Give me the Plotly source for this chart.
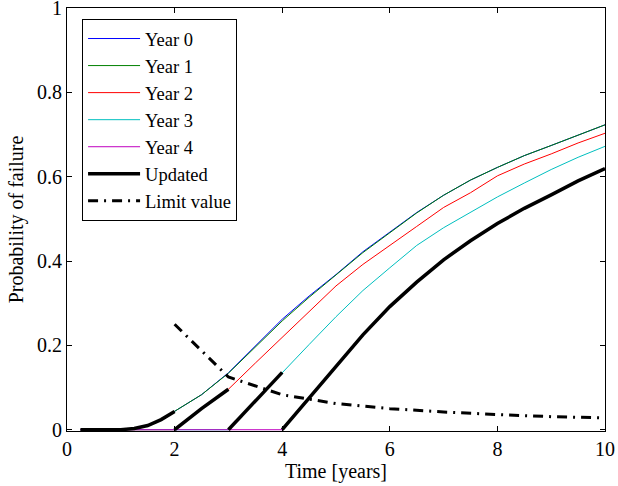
import plotly.graph_objects as go

# ---------------- data ----------------
t = [0.25, 0.5, 0.75, 1.0, 1.25, 1.5, 1.75, 2.0, 2.5, 3.0, 3.5, 4.0, 4.5,
     5.0, 5.5, 6.0, 6.5, 7.0, 7.5, 8.0, 8.5, 9.0, 9.5, 10.0]

year0 = [0, 0, 0, 0, 0.003, 0.010, 0.024, 0.043, 0.083, 0.135, 0.198, 0.262, 0.317,
         0.368, 0.422, 0.468, 0.515, 0.556, 0.592, 0.622, 0.650, 0.674, 0.699, 0.723]
year1 = [0, 0, 0, 0, 0.003, 0.010, 0.024, 0.043, 0.083, 0.134, 0.195, 0.258, 0.314,
         0.366, 0.420, 0.467, 0.514, 0.556, 0.592, 0.622, 0.650, 0.674, 0.699, 0.723]
year2 = [0, 0, 0, 0, 0, 0, 0, 0, 0.050, 0.096, 0.158, 0.219, 0.280,
         0.341, 0.392, 0.436, 0.482, 0.527, 0.562, 0.602, 0.630, 0.654, 0.680, 0.703]
year3 = [0, 0, 0, 0, 0, 0, 0, 0, 0, 0, 0.068, 0.136, 0.202,
         0.268, 0.330, 0.384, 0.437, 0.479, 0.515, 0.552, 0.585, 0.617, 0.646, 0.672]
year4 = [0, 0, 0, 0, 0, 0, 0, 0, 0, 0, 0, 0, 0.075,
         0.152, 0.225, 0.292, 0.350, 0.403, 0.448, 0.489, 0.525, 0.557, 0.590, 0.619]

# updated curve: follows the newest inspection's curve in each interval
update_years = [0, 2, 3, 4]
update_bounds = [(0.25, 2.0), (2.0, 3.0), (3.0, 4.0), (4.0, 10.0)]

limit_t = [2, 3, 4, 5, 6, 7, 8, 9, 10]
limit_v = [0.25, 0.125, 0.083, 0.062, 0.050, 0.042, 0.036, 0.031, 0.028]

names = ["Year 0", "Year 1", "Year 2", "Year 3", "Year 4"]
colors = ["#0000ff", "#008000", "#ff0000", "#00bfbf", "#bf00bf"]
series = [year0, year1, year2, year3, year4]

# ---------------- figure ----------------
fig = go.Figure()
for name, col, ys in zip(names, colors, series):
    fig.add_trace(go.Scatter(x=t, y=ys, mode="lines", name=name,
                             line=dict(color=col, width=1)))

ux, uy = [], []
for yr, (a, b) in zip(update_years, update_bounds):
    ys = series[yr]
    for ti, yi in zip(t, ys):
        if a <= ti <= b:
            ux.append(ti)
            uy.append(yi)
    ux.append(None)
    uy.append(None)
fig.add_trace(go.Scatter(x=ux, y=uy, mode="lines", name="Updated",
                         line=dict(color="black", width=3.5), connectgaps=False))

fig.add_trace(go.Scatter(x=limit_t, y=limit_v, mode="lines",
                         name="Limit value",
                         line=dict(color="black", width=3, dash="10px,6px,2px,6px")))

font = "Liberation Serif"
fig.update_layout(
    width=618, height=486,
    margin=dict(l=67, r=13, t=8, b=55, autoexpand=False),
    paper_bgcolor="white", plot_bgcolor="white",
    font=dict(family=font, size=20, color="black"),
    showlegend=True,
    legend=dict(x=0.028, y=0.974, xanchor="left", yanchor="top",
                bgcolor="white", bordercolor="black", borderwidth=1,
                font=dict(family=font, size=18.5), tracegroupgap=0,
                itemwidth=52),
)
fig.update_xaxes(range=[0, 10], tickvals=[0, 2, 4, 6, 8, 10],
                 ticks="inside", ticklen=5, tickcolor="black",
                 showline=True, linecolor="black", linewidth=1, mirror="ticks",
                 showgrid=False, zeroline=False, ticklabeloverflow="allow",
                 automargin=False,
                 title=dict(text="Time [years]", standoff=0,
                            font=dict(family=font, size=20)),
                 tickfont=dict(family=font, size=20))
fig.update_yaxes(range=[-0.003, 1], tickvals=[0, 0.2, 0.4, 0.6, 0.8, 1],
                 ticktext=["0", "0.2", "0.4", "0.6", "0.8", "1"],
                 ticks="inside", ticklen=5, tickcolor="black",
                 showline=True, linecolor="black", linewidth=1, mirror="ticks",
                 showgrid=False, zeroline=False, ticklabeloverflow="allow",
                 automargin=False,
                 title=dict(text="Probability of failure", standoff=8,
                            font=dict(family=font, size=20)),
                 tickfont=dict(family=font, size=20))

fig.write_html("out.html", config={"displayModeBar": False},
               post_script="document.body.style.margin='0';document.body.style.padding='0';")
